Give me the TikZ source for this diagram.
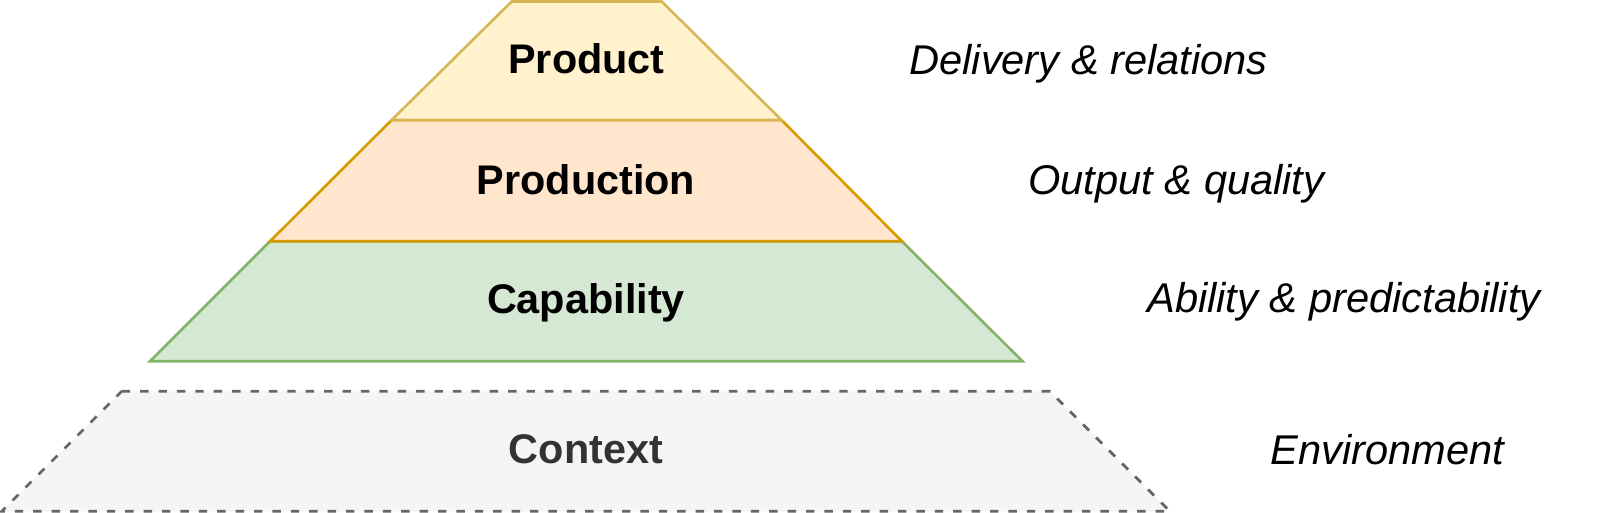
\documentclass[tikz,border=0pt]{standalone}
\usepackage{fontspec}
\setmainfont{Liberation Sans}
\definecolor{prodfill}{HTML}{FFF2CC}
\definecolor{prodline}{HTML}{D6B656}
\definecolor{prdnfill}{HTML}{FFE6CC}
\definecolor{prdnline}{HTML}{D79B00}
\definecolor{capfill}{HTML}{D5E8D4}
\definecolor{capline}{HTML}{82B366}
\definecolor{ctxfill}{HTML}{F5F5F5}
\definecolor{ctxline}{HTML}{666666}
\definecolor{ctxtext}{HTML}{333333}
\tikzset{
  layer/.style={line width=1.3pt, line join=miter},
  layertext/.style={font=\fontsize{20.7}{24}\selectfont\bfseries, anchor=base, inner sep=0pt},
  sidetext/.style={font=\fontsize{20.8}{24}\selectfont\itshape, anchor=base west, inner sep=0pt}
}
\begin{document}
\begin{tikzpicture}[x=0.5pt,y=-0.5pt]
\useasboundingbox (0,0) rectangle (1623,513);
% Context (dashed)
\path[layer, fill=ctxfill, draw=ctxline, line width=1.4pt, dash pattern=on 4.2pt off 5pt]
  (121.7,391.3) -- (1050,391.3) -- (1170,511.3) -- (1.7,511.3) -- cycle;
% Capability
\path[layer, fill=capfill, draw=capline]
  (270,241.3) -- (902,241.3) -- (1022.5,361.3) -- (150,361.3) -- cycle;
% Production
\path[layer, fill=prdnfill, draw=prdnline]
  (391.7,120) -- (781.5,120) -- (902,241.3) -- (270,241.3) -- cycle;
% Product
\path[layer, fill=prodfill, draw=prodline]
  (511.7,1.5) -- (661.7,1.5) -- (781.5,120) -- (391.7,120) -- cycle;
% layer texts
\node[layertext] (product) at (586.5,74) {Product};
\node[layertext] (production) at (586,195) {Production};
\node[layertext] (capability) at (586,314) {Capability};
\node[layertext, text=ctxtext] (context) at (586,463) {Context};
% side labels
\node[sidetext] (delivery) at (909,75) {Delivery \& relations};
\node[sidetext] (output) at (1028,195) {Output \& quality};
\node[sidetext] (ability) at (1147,313) {Ability \& predictability};
\node[sidetext] (environment) at (1270,464) {Environment};
\end{tikzpicture}
\end{document}
